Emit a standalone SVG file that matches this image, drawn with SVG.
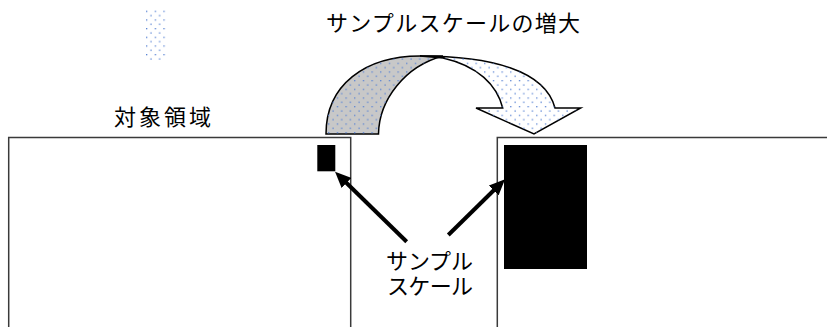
<svg xmlns="http://www.w3.org/2000/svg" width="827" height="327" viewBox="0 0 827 327">
<style>
.t{font-family:"Liberation Sans","Noto Sans CJK JP",sans-serif;font-size:22px;fill:#000}
.box{fill:none;stroke:#3a3a3a;stroke-width:1.5}
.band{stroke:#000;stroke-width:1.5;stroke-linejoin:miter}
.conn{stroke:#000;stroke-width:4;fill:none;marker-end:url(#ah)}
</style>
<defs>
<pattern id="dots" x="7.3" y="2" width="8.67" height="8.67" patternUnits="userSpaceOnUse">
<rect x="0" y="0" width="1.3" height="1.3" fill="#5a84d4"/>
<rect x="4.33" y="4.33" width="1.3" height="1.3" fill="#5a84d4"/>
</pattern>
<marker id="ah" markerUnits="userSpaceOnUse" markerWidth="17" markerHeight="14" refX="6" refY="7" orient="auto">
<path d="M0,0 L16,7 L0,14 Z" fill="#000"/>
</marker>
</defs>
<rect width="827" height="327" fill="#fff"/>

<g id="legend">
<rect x="144" y="10" width="23" height="50" fill="url(#dots)"/>
</g>

<g id="title">
<text class="t" x="326" y="30.5" textLength="254" lengthAdjust="spacing">サンプルスケールの増大</text>
</g>

<g id="target-label">
<text class="t" x="114" y="125" textLength="97" lengthAdjust="spacing">対象領域</text>
</g>

<g id="left-region">
<path class="box" d="M8.7,327 V137.5 H350.7 V327"/>
<rect x="317.3" y="145" width="18" height="26.3" fill="#000"/>
</g>

<g id="right-region">
<path class="box" d="M497.3,327 V137.5 H830"/>
<rect x="504" y="145" width="83" height="124" fill="#000"/>
</g>

<g id="curved-arrow">
<path class="band" fill="#c8c8c8" d="M326,134 C326,85 365,56 420,56 L443,56 C405,66 379,100 378.5,134 Z"/>
<path d="M326,134 C326,85 365,56 420,56 L443,56 C405,66 379,100 378.5,134 Z" fill="url(#dots)"/>
<path class="band" fill="#fff" d="M420,56 C490,56 545,70 555,108 L580.7,108 L534,134 L476,108 L502.7,108 C497,85 478,66 443,58 L420,56 Z"/>
<path d="M420,56 C490,56 545,70 555,108 L580.7,108 L534,134 L476,108 L502.7,108 C497,85 478,66 443,58 Z" fill="url(#dots)"/>
</g>

<g id="sample-label">
<text class="t" x="386" y="268.5" textLength="87" lengthAdjust="spacing">サンプル</text>
<text class="t" x="387" y="293.5" textLength="86" lengthAdjust="spacing">スケール</text>
</g>

<g id="connectors">
<line class="conn" x1="406.7" y1="241.7" x2="342.2" y2="178.7"/>
<line class="conn" x1="448.3" y1="235" x2="497.9" y2="186.3"/>
</g>
</svg>
